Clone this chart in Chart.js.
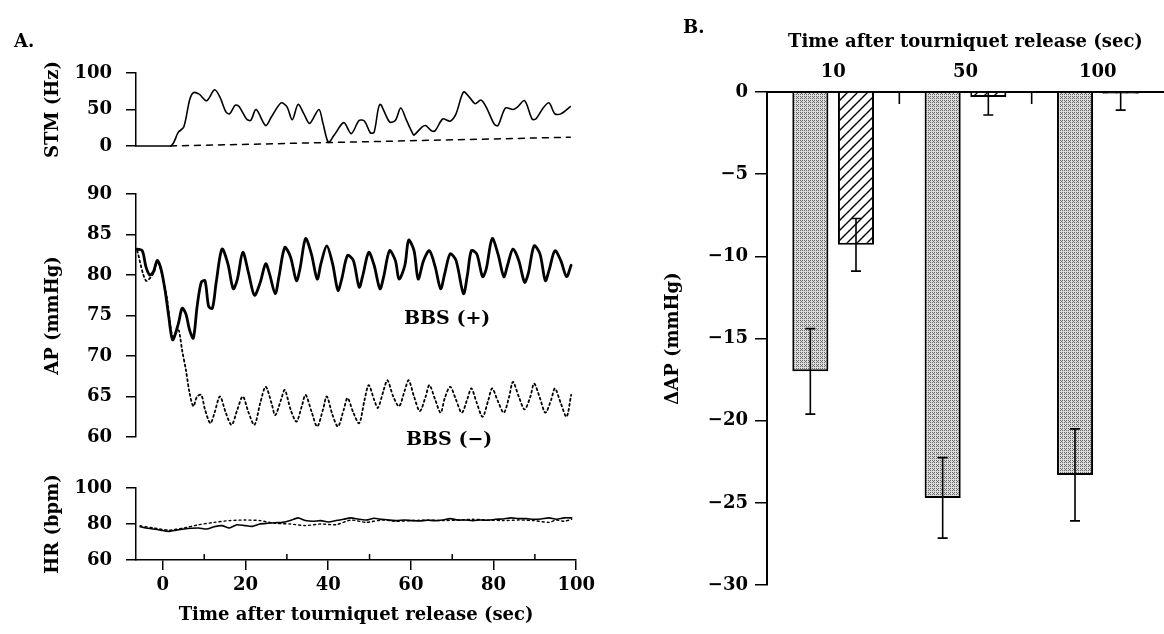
<!DOCTYPE html>
<html><head><meta charset="utf-8">
<script src="https://cdn.jsdelivr.net/npm/chart.js@4.4.1/dist/chart.umd.min.js"></script>
<style>
html,body{margin:0;padding:0;background:#fff;}
body{width:1164px;height:634px;position:relative;overflow:hidden;}
canvas{position:absolute;}
.lbl{position:absolute;font:bold 18px 'DejaVu Serif',serif;color:#000;white-space:nowrap;line-height:20px;}
</style></head>
<body>
<canvas id="stm" width="600" height="634" style="left:0;top:0;width:600px;height:634px"></canvas>
<canvas id="ap" width="600" height="634" style="left:0;top:0;width:600px;height:634px"></canvas>
<canvas id="hr" width="600" height="634" style="left:0;top:0;width:600px;height:634px"></canvas>
<canvas id="bar" width="564" height="634" style="left:600px;top:0;width:564px;height:634px"></canvas>
<div class="lbl" style="left:14px;top:31px;">A.</div>
<div class="lbl" style="left:683px;top:17px;">B.</div>
<div class="lbl" style="left:404px;top:307px;font-size:19px;">BBS (+)</div>
<div class="lbl" style="left:406px;top:428px;font-size:19px;">BBS (−)</div>
<script>
// ---------- Panel A data ----------
const xTickValues = [0, 20, 40, 60, 80, 100];
const xMinorTicks = [10, 30, 50, 70, 90];
const stmTicks = [0, 50, 100];
const apTicks = [60, 65, 70, 75, 80, 85, 90];
const hrTicks = [60, 80, 100];

const stmTime = [-6.6,1.8,3.7,5.0,6.4,7.3,8.7,10.5,12.4,13.7,15.1,16.0,17.4,18.3,20.1,21.1,22.4,24.7,26.1,28.4,29.8,31.1,32.5,33.9,35.3,37.5,38.5,39.8,41.2,43.5,45.3,47.2,48.5,49.9,50.8,52.2,54.5,55.9,57.2,58.6,60.0,60.4,62.3,63.2,64.6,65.5,67.3,69.1,70.5,72.3,73.7,75.1,76.5,77.8,79.7,80.6,82.4,84.2,85.2,87.0,88.8,89.7,91.6,92.9,94.3,95.7,98.0];
const stmRate = [0,0,19,26,63,73,71,62,77,67,47,44,56,54,37,35,50,28,40,59,54,36,57,44,31,50,31,5,15,32,17,35,34,18,19,57,33,35,52,35,18,15,26,28,21,21,37,34,44,74,67,58,63,53,30,28,52,50,53,62,37,37,53,59,44,44,54];
const stmBaseTime = [1.8, 98.0];
const stmBaseRate = [0, 12];

const apPlusTime = [-6.2,-5.0,-4.1,-3.2,-2.3,-1.4,-0.5,0.5,1.4,2.3,3.7,4.6,5.5,6.4,7.3,8.2,9.2,10.1,11.0,11.9,12.8,14.2,15.6,16.9,17.9,19.2,20.6,22.0,23.4,24.7,25.6,27.0,27.9,29.3,30.7,32.1,33.0,34.3,35.7,37.1,38.0,39.4,40.8,42.1,43.0,44.4,45.8,47.2,48.1,49.5,50.8,52.2,53.1,54.5,55.9,56.8,58.2,59.1,60.4,61.4,62.7,64.1,65.5,66.8,67.8,69.1,70.5,72.3,73.3,74.2,75.5,76.9,77.8,79.2,80.6,82.0,82.9,84.2,85.6,87.0,87.9,89.3,90.7,92.0,92.9,94.3,95.7,97.1,98.2];
const apPlus = [83.2,83.0,81.0,80.0,80.4,81.8,80.8,78.1,74.8,72.0,74.0,75.9,75.2,73.2,72.2,76.1,79.1,79.3,76.1,75.9,79.1,83.2,81.4,78.3,79.5,82.8,80.2,77.5,79.1,81.4,80.2,77.7,79.8,83.4,82.2,79.3,80.9,84.5,82.6,79.5,81.4,83.6,81.4,78.1,79.5,82.4,81.8,78.5,80.0,82.8,81.2,78.3,79.8,83.0,81.8,79.5,81.2,84.3,83.0,79.5,81.8,83.0,81.0,78.3,80.2,82.6,81.8,77.7,80.2,83.0,82.6,79.8,80.8,84.5,82.6,79.8,81.2,83.2,81.8,79.1,80.2,83.6,82.6,79.3,80.6,83.0,81.8,79.8,81.2];

const apMinusTime = [-6.2,-4.1,-2.3,-1.4,-0.5,0.9,2.3,3.7,4.1,4.6,5.5,6.4,7.3,8.2,9.2,10.1,11.4,12.4,13.7,15.1,16.5,17.9,19.2,20.6,22.0,23.4,24.7,26.1,27.0,28.4,29.3,30.7,32.1,33.4,34.3,35.7,37.1,38.5,39.4,40.8,42.1,43.5,44.4,45.8,47.2,48.5,49.5,50.8,51.7,53.1,54.0,55.4,56.8,58.2,59.1,60.4,61.8,63.2,64.1,65.5,66.8,67.8,69.1,70.5,71.9,73.3,74.2,75.5,76.9,78.3,79.2,80.6,82.0,83.3,84.2,85.6,87.0,88.4,89.3,90.7,92.0,93.4,94.3,95.7,97.1,98.2];
const apMinus = [83.0,79.3,80.2,81.6,80.6,77.3,72.4,73.2,72.4,70.7,68.3,65.4,63.8,65.0,65.2,63.4,61.7,63.0,65.0,63.0,61.5,63.4,65.0,63.0,61.5,64.2,66.2,64.2,62.7,64.6,65.8,63.4,61.9,63.8,65.2,63.2,61.3,63.4,65.0,62.7,61.3,63.4,64.8,63.0,61.7,64.6,66.4,64.6,63.6,65.8,67.0,65.0,63.8,65.8,67.0,65.0,63.2,65.0,66.4,64.6,63.0,64.8,66.2,64.6,63.0,64.8,66.0,64.2,62.5,64.6,66.0,64.4,63.0,65.0,66.8,65.0,63.4,65.0,66.6,64.8,63.0,64.6,66.0,64.2,62.5,65.2];

const hrPlusTime = [-5.5,-4.1,-2.3,-0.5,1.4,3.2,5.1,6.9,8.7,10.6,12.4,14.3,16.1,17.9,19.8,21.6,23.5,25.3,27.1,29.0,30.8,32.7,34.5,36.3,38.2,40.0,41.9,43.7,45.5,47.4,49.2,51.1,52.9,54.7,56.6,58.4,60.3,62.1,63.9,65.8,67.6,69.5,71.3,73.1,75.0,76.8,78.7,80.5,82.3,84.2,86.0,87.9,89.7,91.5,93.4,95.2,97.1,98.9];
const hrPlus = [78.5,77.8,77.2,76.6,75.9,76.6,77.2,77.6,77.8,77.2,78.5,79.1,77.8,79.6,79.1,78.7,80.0,80.4,80.7,80.9,81.9,83.4,81.9,81.5,81.9,81.1,81.9,82.6,83.4,82.6,82.2,83.2,82.6,82.2,81.9,82.2,81.9,81.7,82.1,81.9,82.2,83.0,82.2,82.2,81.9,82.2,82.1,82.6,82.8,83.4,83.0,83.0,82.6,82.8,83.4,82.6,83.4,83.4];
const hrMinusTime = [-5.5,-2.3,1.4,5.1,8.7,12.4,16.1,19.8,23.5,27.1,30.8,34.5,38.2,41.9,45.5,49.2,52.9,56.6,60.3,63.9,67.6,71.3,75.0,78.7,82.3,86.0,89.7,93.4,95.2,97.1,98.9];
const hrMinus = [79.0,77.8,76.6,77.8,79.6,80.9,81.9,82.2,81.9,80.4,80.0,79.1,80.0,79.6,82.2,80.9,82.2,81.5,81.9,82.2,81.9,82.2,82.6,82.2,81.9,82.2,81.9,80.9,82.2,81.5,82.6];

// ---------- Panel B data ----------
const bTimes = ['10', '50', '100'];
const bYTicks = [0, -5, -10, -15, -20, -25, -30];
const grayValues = [-17.0, -24.7, -23.3];
const grayErrors = [2.6, 2.45, 2.8];
const hatchValues = [-9.3, -0.3, -0.1];
const hatchErrors = [1.6, 1.1, 1.0];

// ---------- setup ----------
Chart.defaults.font.family = "'DejaVu Serif', serif";
Chart.defaults.font.size = 18;
Chart.defaults.font.weight = 'bold';
Chart.defaults.color = '#000';
Chart.defaults.animation = false;

const pts = (xs, ys) => xs.map((x, i) => ({x: x, y: ys[i]}));
const X_MIN = -6.5, X_MAX = 100;
const A_PAD_LEFT = 43, A_AXIS_W = 93, A_PAD_RIGHT = 21.4;

function yAxisA(min, max, ticks, title) {
  return {
    type: 'linear', min: min, max: max,
    afterBuildTicks: s => { s.ticks = ticks.map(v => ({value: v})); },
    afterFit: s => { s.width = A_AXIS_W; },
    grid: {drawOnChartArea: false, drawTicks: true, tickLength: 10, color: '#000', lineWidth: 1.5},
    border: {display: true, color: '#000', width: 1.5},
    ticks: {padding: 14, color: '#000'},
    title: {display: true, text: title, padding: 0, color: '#000'}
  };
}
function hiddenX() {
  return {type: 'linear', min: X_MIN, max: X_MAX, display: false};
}
function lineDs(data, width, dash, tension) {
  return {data: data, borderColor: '#000', borderWidth: width, borderDash: dash, pointRadius: 0,
          tension: tension, fill: false, clip: false, borderCapStyle: 'round', borderJoinStyle: 'round'};
}
const baseOpts = {responsive: false, maintainAspectRatio: false, animation: false,
  plugins: {legend: {display: false}, tooltip: {enabled: false}}, events: []};

// STM
new Chart(document.getElementById('stm'), {
  type: 'line',
  data: {datasets: [
    lineDs(pts(stmTime, stmRate), 1.6, [], 0.3),
    lineDs(pts(stmBaseTime, stmBaseRate), 1.5, [6, 6], 0)
  ]},
  options: Object.assign({}, baseOpts, {
    layout: {padding: {left: A_PAD_LEFT, right: A_PAD_RIGHT, top: 73, bottom: 634 - 146}},
    scales: {x: hiddenX(), y: yAxisA(0, 100, stmTicks, 'STM (Hz)')}
  })
});

// AP
new Chart(document.getElementById('ap'), {
  type: 'line',
  data: {datasets: [
    lineDs(pts(apPlusTime, apPlus), 2.8, [], 0.3),
    lineDs(pts(apMinusTime, apMinus), 1.8, [2, 3], 0.3)
  ]},
  options: Object.assign({}, baseOpts, {
    layout: {padding: {left: A_PAD_LEFT, right: A_PAD_RIGHT, top: 194, bottom: 634 - 437}},
    scales: {x: hiddenX(), y: yAxisA(60, 90, apTicks, 'AP (mmHg)')}
  })
});

// HR with minor inner ticks
const minorTicks = {
  id: 'minorTicks',
  afterDraw(chart) {
    const xs = chart.scales.x, ctx = chart.ctx, b = chart.chartArea.bottom;
    ctx.save(); ctx.strokeStyle = '#000'; ctx.lineWidth = 1.5;
    xMinorTicks.forEach(v => {
      const px = xs.getPixelForValue(v);
      ctx.beginPath(); ctx.moveTo(px, b); ctx.lineTo(px, b - 6); ctx.stroke();
    });
    ctx.restore();
  }
};
new Chart(document.getElementById('hr'), {
  type: 'line',
  data: {datasets: [
    lineDs(pts(hrPlusTime, hrPlus), 1.6, [], 0.2),
    lineDs(pts(hrMinusTime, hrMinus), 1.4, [2, 3], 0.2)
  ]},
  options: Object.assign({}, baseOpts, {
    layout: {padding: {left: A_PAD_LEFT, right: A_PAD_RIGHT, top: 488, bottom: 0}},
    scales: {
      x: {type: 'linear', min: X_MIN, max: X_MAX,
        afterBuildTicks: s => { s.ticks = xTickValues.map(v => ({value: v})); },
        afterFit: s => { s.height = 74; },
        grid: {drawOnChartArea: false, drawTicks: true, tickLength: 10, color: '#000', lineWidth: 1.5},
        border: {display: true, color: '#000', width: 1.5},
        ticks: {padding: 5, color: '#000', maxRotation: 0},
        title: {display: true, text: 'Time after tourniquet release (sec)', padding: {top: 0, bottom: 8}, color: '#000'}
      },
      y: yAxisA(60, 100, hrTicks, 'HR (bpm)')
    }
  }),
  plugins: [minorTicks]
});

// ---------- Panel B ----------
function makeGray() {
  const c = document.createElement('canvas'); c.width = 4; c.height = 4;
  const g = c.getContext('2d');
  const bayer = [[0,8,2,10],[12,4,14,6],[3,11,1,9],[15,7,13,5]];
  for (let r = 0; r < 4; r++) for (let q = 0; q < 4; q++) {
    g.fillStyle = bayer[r][q] < 5 ? '#6a6a6a' : '#dcdcdc';
    g.fillRect(q, r, 1, 1);
  }
  return g.createPattern(c, 'repeat');
}
function makeHatch() {
  const c = document.createElement('canvas'); c.width = 10; c.height = 10;
  const g = c.getContext('2d');
  g.fillStyle = '#fff'; g.fillRect(0, 0, 10, 10);
  g.strokeStyle = '#000'; g.lineWidth = 1.4;
  g.beginPath();
  g.moveTo(0, 10); g.lineTo(10, 0);
  g.moveTo(-2, 2); g.lineTo(2, -2);
  g.moveTo(8, 12); g.lineTo(12, 8);
  g.stroke();
  return g.createPattern(c, 'repeat');
}
const errorBars = {
  id: 'errorBars',
  afterDatasetsDraw(chart) {
    const {ctx, chartArea} = chart, ys = chart.scales.y;
    ctx.save();
    ctx.beginPath();
    ctx.rect(chartArea.left, chartArea.top, chartArea.right - chartArea.left, chartArea.bottom - chartArea.top);
    ctx.clip();
    ctx.strokeStyle = '#000'; ctx.lineWidth = 1.6;
    chart.data.datasets.forEach((ds, di) => {
      chart.getDatasetMeta(di).data.forEach((bar, i) => {
        const v = ds.data[i], e = ds.errors[i];
        const t = ys.getPixelForValue(v + e), b = ys.getPixelForValue(v - e), x = bar.x;
        ctx.beginPath();
        ctx.moveTo(x, t); ctx.lineTo(x, b);
        ctx.moveTo(x - 5, t); ctx.lineTo(x + 5, t);
        ctx.moveTo(x - 5, b); ctx.lineTo(x + 5, b);
        ctx.stroke();
      });
    });
    ctx.restore();
  }
};
const catSeparators = {
  id: 'catSeparators',
  afterDraw(chart) {
    const xs = chart.scales.x, ctx = chart.ctx, top = chart.chartArea.top;
    ctx.save(); ctx.strokeStyle = '#000'; ctx.lineWidth = 1.6;
    for (let i = 0; i < bTimes.length - 1; i++) {
      const px = (xs.getPixelForTick(i) + xs.getPixelForTick(i + 1)) / 2;
      ctx.beginPath(); ctx.moveTo(px, top); ctx.lineTo(px, top + 12); ctx.stroke();
    }
    ctx.restore();
  }
};
new Chart(document.getElementById('bar'), {
  type: 'bar',
  data: {
    labels: bTimes,
    datasets: [
      {data: grayValues, errors: grayErrors, backgroundColor: makeGray(), borderColor: '#000', borderWidth: 2,
       categoryPercentage: 0.69, barPercentage: 0.79},
      {data: hatchValues, errors: hatchErrors, backgroundColor: makeHatch(), borderColor: '#000', borderWidth: 2,
       categoryPercentage: 0.69, barPercentage: 0.79}
    ]
  },
  options: Object.assign({}, baseOpts, {
    layout: {padding: {left: 63, right: 0, top: 32, bottom: 634 - 585}},
    scales: {
      x: {type: 'category', position: 'top',
        afterFit: s => { s.height = 60; },
        grid: {display: true, drawOnChartArea: false, drawTicks: false},
        border: {display: true, color: '#000', width: 2},
        ticks: {padding: 9, color: '#000', maxRotation: 0},
        title: {display: true, text: 'Time after tourniquet release (sec)', padding: 0, color: '#000'}
      },
      y: {type: 'linear', min: -30, max: 0,
        afterBuildTicks: s => { s.ticks = bYTicks.map(v => ({value: v})); },
        afterFit: s => { s.width = 104; },
        grid: {drawOnChartArea: false, drawTicks: true, tickLength: 12, color: '#000', lineWidth: 1.5},
        border: {display: true, color: '#000', width: 2},
        ticks: {padding: 7, color: '#000', callback: v => v < 0 ? '\u2212' + Math.abs(v) : String(v)},
        title: {display: true, text: '\u0394AP (mmHg)', padding: 0, color: '#000'}
      }
    }
  }),
  plugins: [errorBars, catSeparators]
});
</script>
</body></html>
